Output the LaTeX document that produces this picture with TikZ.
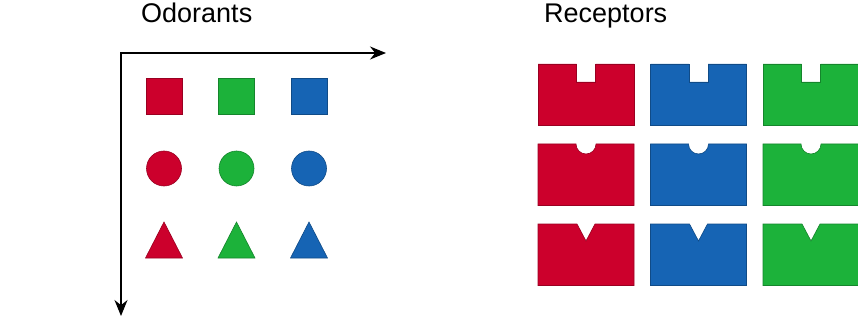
\documentclass[tikz,border=0pt]{standalone}
\usepackage{fontspec}
\setmainfont{Liberation Sans}
\usetikzlibrary{arrows.meta}
\definecolor{odred}{RGB}{204,0,44}
\definecolor{odgreen}{RGB}{28,178,58}
\definecolor{odblue}{RGB}{22,100,180}

\begin{document}
\begin{tikzpicture}[x=1pt, y=-1pt,
	title/.style={anchor=base west, inner sep=0pt, font=\fontsize{27}{32}\selectfont},
	axis/.style={line width=1.6pt, {Stealth[length=16pt,width=13pt]}-{Stealth[length=16pt,width=13pt]}},
	blob/.style={fill=#1, draw=#1!75!black, line width=0.6pt}]
	\useasboundingbox (0,0) rectangle (858,320);
	\node[title] (odo) at (141,23) {Odorants};
	\node[title] (rec) at (544,23) {Receptors};
	\coordinate (orig) at (121,53);
	\coordinate (xend) at (386,53);
	\coordinate (yend) at (121,316);
	\draw[axis] (xend) -- (orig) -- (yend);
	% odorants
	\foreach \c [count=\i from 0] in {odred,odgreen,odblue} {
		\draw[blob=\c] (146+72.5*\i,78) rectangle ++(36,36);
		\draw[blob=\c] (164+72.5*\i,168.5) circle (17.5);
		\draw[blob=\c] (145.5+72.5*\i,258) -- ++(18.5,-36) -- ++(18.5,36) -- cycle;
	}
	% receptors
	\foreach \c [count=\i from 0] in {odred,odblue,odgreen} {
		\pgfmathsetmacro\x{538+112.5*\i}
		\draw[blob=\c] (\x,64) -- ++(38.5,0) -- ++(0,18) -- ++(19,0) -- ++(0,-18) -- ++(38.5,0) -- ++(0,61.5) -- ++(-96,0) -- cycle;
		\draw[blob=\c] (\x,144) -- ++(38,0) arc[start angle=180, end angle=0, radius=10] -- ++(38,0) -- ++(0,61.5) -- ++(-96,0) -- cycle;
		\draw[blob=\c] (\x,224) -- ++(39,0) -- ++(9,17) -- ++(9,-17) -- ++(39,0) -- ++(0,61.5) -- ++(-96,0) -- cycle;
	}
\end{tikzpicture}
\end{document}
